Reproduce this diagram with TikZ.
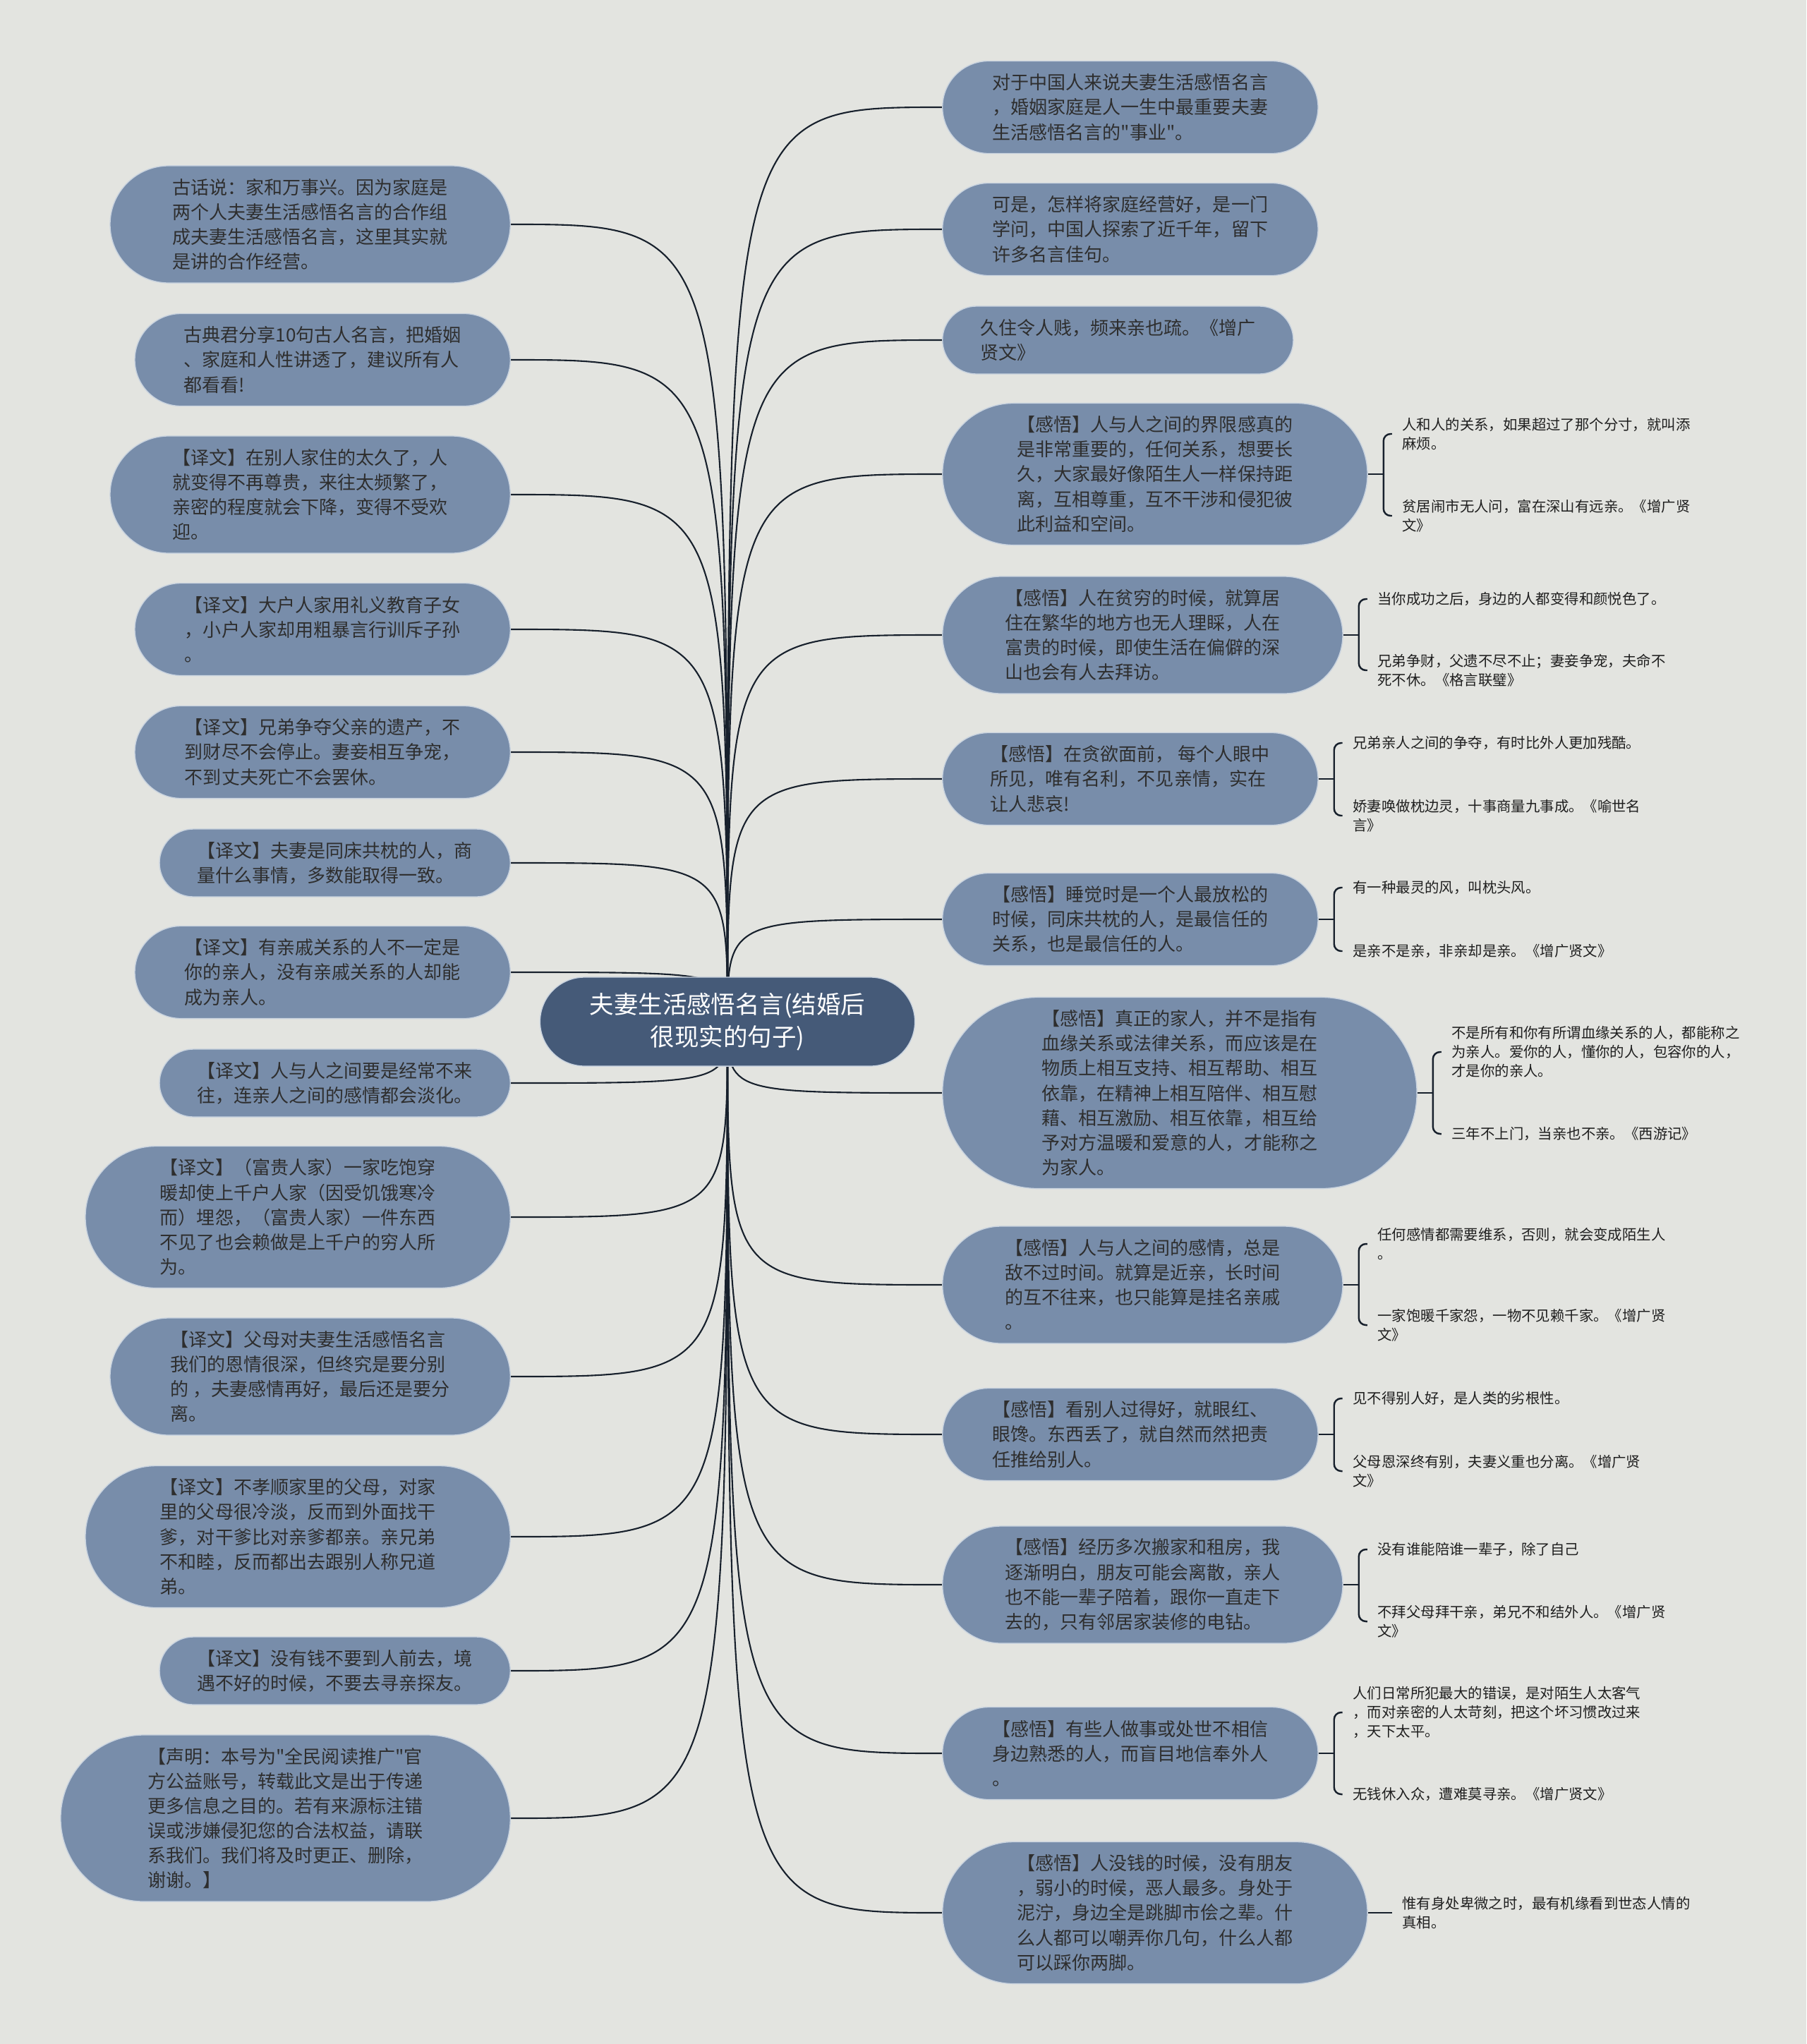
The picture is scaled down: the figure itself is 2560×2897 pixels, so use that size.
\documentclass[tikz,border=0pt]{standalone}
\usepackage{fontspec}
\setmainfont{Noto Sans CJK SC}
\usepackage{tikz}
\usetikzlibrary{shapes,backgrounds}
\definecolor{paper}{HTML}{E3E4E0}
\definecolor{slate}{HTML}{788DAA}
\definecolor{navy}{HTML}{455A78}
\definecolor{ink}{HTML}{17202C}
\definecolor{rim}{HTML}{C9D3DF}

\begin{document}
\begin{tikzpicture}[x=0.01cm,y=-0.01cm,
    hub/.style={rounded rectangle,fill=navy,draw=rim,line width=0.4pt,text=white,align=center,inner sep=0pt,minimum width=5.31cm,minimum height=1.26cm,font=\fontsize{9.8pt}{13.1pt}\selectfont},
    topic/.style={rounded rectangle,fill=slate,draw=rim,line width=0.4pt,text=black!82,align=left,inner sep=0pt,font=\fontsize{7.4pt}{10pt}\selectfont},
    rows/.style={minimum width={(4.27+0.35*#1)*1cm},minimum height={(0.26+0.35*#1)*1cm}},
    leaf/.style={anchor=west,align=left,inner xsep=0.14cm,inner ysep=0pt,text=black!88,font=\fontsize{5.8pt}{7.7pt}\selectfont},
    link/.style={draw=ink,line width=0.6pt},
    brace/.style={draw=ink,line width=0.7pt,rounded corners=0.1cm}]
    \useasboundingbox (0,0) rectangle (2560,2897);

    % central topic
    \node[hub] (hub) at (1031,1448) {夫妻生活感悟名言(结婚后\\很现实的句子)};

    % left branch
    \node[topic,rows=4,anchor=east] (l1) at (724,318) {古话说：家和万事兴。因为家庭是\\两个人夫妻生活感悟名言的合作组\\成夫妻生活感悟名言，这里其实就\\是讲的合作经营。};
    \node[topic,rows=3,anchor=east] (l2) at (724,510) {古典君分享10句古人名言，把婚姻\\、家庭和人性讲透了，建议所有人\\都看看!};
    \node[topic,rows=4,anchor=east] (l3) at (724,701) {【译文】在别人家住的太久了，人\\就变得不再尊贵，来往太频繁了，\\亲密的程度就会下降，变得不受欢\\迎。};
    \node[topic,rows=3,anchor=east] (l4) at (724,892) {【译文】大户人家用礼义教育子女\\，小户人家却用粗暴言行训斥子孙\\。};
    \node[topic,rows=3,anchor=east] (l5) at (724,1066) {【译文】兄弟争夺父亲的遗产，不\\到财尽不会停止。妻妾相互争宠，\\不到丈夫死亡不会罢休。};
    \node[topic,rows=2,anchor=east] (l6) at (724,1223) {【译文】夫妻是同床共枕的人，商\\量什么事情，多数能取得一致。};
    \node[topic,rows=3,anchor=east] (l7) at (724,1378) {【译文】有亲戚关系的人不一定是\\你的亲人，没有亲戚关系的人却能\\成为亲人。};
    \node[topic,rows=2,anchor=east] (l8) at (724,1535) {【译文】人与人之间要是经常不来\\往，连亲人之间的感情都会淡化。};
    \node[topic,rows=5,anchor=east] (l9) at (724,1725) {【译文】（富贵人家）一家吃饱穿\\暖却使上千户人家（因受饥饿寒冷\\而）埋怨，（富贵人家）一件东西\\不见了也会赖做是上千户的穷人所\\为。};
    \node[topic,rows=4,anchor=east] (l10) at (724,1951) {【译文】父母对夫妻生活感悟名言\\我们的恩情很深，但终究是要分别\\的 ，夫妻感情再好，最后还是要分\\离。};
    \node[topic,rows=5,anchor=east] (l11) at (724,2178) {【译文】不孝顺家里的父母，对家\\里的父母很冷淡，反而到外面找干\\爹，对干爹比对亲爹都亲。亲兄弟\\不和睦，反而都出去跟别人称兄道\\弟。};
    \node[topic,rows=2,anchor=east] (l12) at (724,2368) {【译文】没有钱不要到人前去，境\\遇不好的时候，不要去寻亲探友。};
    \node[topic,rows=6,anchor=east] (l13) at (724,2577) {【声明：本号为\textquotedbl 全民阅读推广\textquotedbl 官\\方公益账号，转载此文是出于传递\\更多信息之目的。若有来源标注错\\误或涉嫌侵犯您的合法权益，请联\\系我们。我们将及时更正、删除，\\谢谢。】};

    % right branch
    \node[topic,rows=3,anchor=west] (r1) at (1335,152) {对于中国人来说夫妻生活感悟名言\\，婚姻家庭是人一生中最重要夫妻\\生活感悟名言的\textquotedbl 事业\textquotedbl 。};
    \node[topic,rows=3,anchor=west] (r2) at (1335,325) {可是，怎样将家庭经营好，是一门\\学问，中国人探索了近千年，留下\\许多名言佳句。};
    \node[topic,rows=2,anchor=west] (r3) at (1335,482) {久住令人贱，频来亲也疏。《增广\\贤文》};
    \node[topic,rows=5,anchor=west] (r4) at (1335,672) {【感悟】人与人之间的界限感真的\\是非常重要的，任何关系，想要长\\久，大家最好像陌生人一样保持距\\离，互相尊重，互不干涉和侵犯彼\\此利益和空间。};
    \node[topic,rows=4,anchor=west] (r5) at (1335,900) {【感悟】人在贫穷的时候，就算居\\住在繁华的地方也无人理睬，人在\\富贵的时候，即使生活在偏僻的深\\山也会有人去拜访。};
    \node[topic,rows=3,anchor=west] (r6) at (1335,1104) {【感悟】在贪欲面前， 每个人眼中\\所见，唯有名利，不见亲情，实在\\让人悲哀!};
    \node[topic,rows=3,anchor=west] (r7) at (1335,1303) {【感悟】睡觉时是一个人最放松的\\时候，同床共枕的人，是最信任的\\关系，也是最信任的人。};
    \node[topic,rows=7,anchor=west] (r8) at (1335,1549) {【感悟】真正的家人，并不是指有\\血缘关系或法律关系，而应该是在\\物质上相互支持、相互帮助、相互\\依靠，在精神上相互陪伴、相互慰\\藉、相互激励、相互依靠，相互给\\予对方温暖和爱意的人，才能称之\\为家人。};
    \node[topic,rows=4,anchor=west] (r9) at (1335,1821) {【感悟】人与人之间的感情，总是\\敌不过时间。就算是近亲，长时间\\的互不往来，也只能算是挂名亲戚\\。};
    \node[topic,rows=3,anchor=west] (r10) at (1335,2033) {【感悟】看别人过得好，就眼红、\\眼馋。东西丢了，就自然而然把责\\任推给别人。};
    \node[topic,rows=4,anchor=west] (r11) at (1335,2246) {【感悟】经历多次搬家和租房，我\\逐渐明白，朋友可能会离散，亲人\\也不能一辈子陪着，跟你一直走下\\去的，只有邻居家装修的电钻。};
    \node[topic,rows=3,anchor=west] (r12) at (1335,2485) {【感悟】有些人做事或处世不相信\\身边熟悉的人，而盲目地信奉外人\\。};
    \node[topic,rows=5,anchor=west] (r13) at (1335,2711) {【感悟】人没钱的时候，没有朋友\\，弱小的时候，恶人最多。身处于\\泥泞，身边全是跳脚市侩之辈。什\\么人都可以嘲弄你几句，什么人都\\可以踩你两脚。};

    % quotes hanging off the right branch
    \node[leaf] (r4a) at ([shift={(34,-57)}]r4.east) {人和人的关系，如果超过了那个分寸，就叫添\\麻烦。};
    \node[leaf] (r4b) at ([shift={(34,59)}]r4.east) {贫居闹市无人问，富在深山有远亲。《增广贤\\文》};
    \node[leaf] (r5a) at ([shift={(34,-51)}]r5.east) {当你成功之后，身边的人都变得和颜悦色了。};
    \node[leaf] (r5b) at ([shift={(34,50)}]r5.east) {兄弟争财，父遗不尽不止；妻妾争宠，夫命不\\死不休。《格言联璧》};
    \node[leaf] (r6a) at ([shift={(34,-51)}]r6.east) {兄弟亲人之间的争夺，有时比外人更加残酷。};
    \node[leaf] (r6b) at ([shift={(34,52)}]r6.east) {娇妻唤做枕边灵，十事商量九事成。《喻世名\\言》};
    \node[leaf] (r7a) at ([shift={(34,-45)}]r7.east) {有一种最灵的风，叫枕头风。};
    \node[leaf] (r7b) at ([shift={(34,45)}]r7.east) {是亲不是亲，非亲却是亲。《增广贤文》};
    \node[leaf] (r8a) at ([shift={(34,-58)}]r8.east) {不是所有和你有所谓血缘关系的人，都能称之\\为亲人。爱你的人，懂你的人，包容你的人，\\才是你的亲人。};
    \node[leaf] (r8b) at ([shift={(34,58)}]r8.east) {三年不上门，当亲也不亲。《西游记》};
    \node[leaf] (r9a) at ([shift={(34,-58)}]r9.east) {任何感情都需要维系，否则，就会变成陌生人\\。};
    \node[leaf] (r9b) at ([shift={(34,57)}]r9.east) {一家饱暖千家怨，一物不见赖千家。《增广贤\\文》};
    \node[leaf] (r10a) at ([shift={(34,-51)}]r10.east) {见不得别人好，是人类的劣根性。};
    \node[leaf] (r10b) at ([shift={(34,52)}]r10.east) {父母恩深终有别，夫妻义重也分离。《增广贤\\文》};
    \node[leaf] (r11a) at ([shift={(34,-50)}]r11.east) {没有谁能陪谁一辈子，除了自己};
    \node[leaf] (r11b) at ([shift={(34,52)}]r11.east) {不拜父母拜干亲，弟兄不和结外人。《增广贤\\文》};
    \node[leaf] (r12a) at ([shift={(34,-58)}]r12.east) {人们日常所犯最大的错误，是对陌生人太客气\\，而对亲密的人太苛刻，把这个坏习惯改过来\\，天下太平。};
    \node[leaf] (r12b) at ([shift={(34,58)}]r12.east) {无钱休入众，遭难莫寻亲。《增广贤文》};
    \node[leaf] (r13a) at ([shift={(34,0)}]r13.east) {惟有身处卑微之时，最有机缘看到世态人情的\\真相。};

    % brace joints
    \foreach \n in {r4,r5,r6,r7,r8,r9,r10,r11,r12}
        \coordinate (\n j) at ([shift={(22,0)}]\n.east);

    \begin{scope}[on background layer]
        \fill[paper] (0,0) rectangle (2560,2897);
        % links from the centre
        \foreach \n in {l1,l2,l3,l4,l5,l6,l7,l8,l9,l10,l11,l12,l13}
            \draw[link] (hub.center) .. controls (hub.center |- \n.east) .. (\n.east);
        \foreach \n in {r1,r2,r3,r4,r5,r6,r7,r8,r9,r10,r11,r12,r13}
            \draw[link] (hub.center) .. controls (hub.center |- \n.west) .. (\n.west);
    \end{scope}

    % braces
    \foreach \n in {r4,r5,r6,r7,r8,r9,r10,r11,r12} {
        \draw[brace] (\n.east) -- (\n j);
        \draw[brace] (\n a.west) -| (\n j);
        \draw[brace] (\n b.west) -| (\n j);
    }
    \draw[brace] (r13.east) -- (r13a.west);
\end{tikzpicture}
\end{document}
